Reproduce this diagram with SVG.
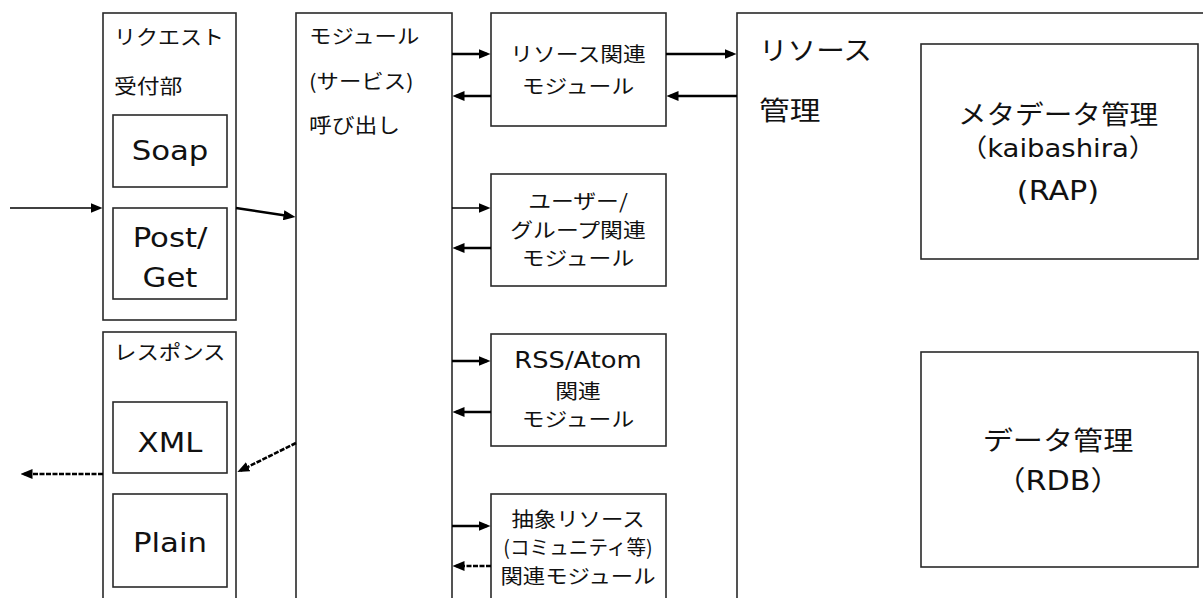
<svg xmlns="http://www.w3.org/2000/svg" width="1203" height="598" viewBox="0 0 1203 598">
<style>
.b{fill:#fff;stroke:#2a2a2a;stroke-width:1.6}
.j{font-family:"Noto Sans CJK JP",sans-serif;fill:#111}
.l{font-family:"DejaVu Sans","Noto Sans CJK JP",sans-serif;fill:#111}
.m{text-anchor:middle}
.c{stroke:#000;stroke-width:2.6;fill:none}
.thin{stroke-width:1.5}
.d{stroke-dasharray:5 1.5}
</style>
<defs>
<marker id="ah" viewBox="0 0 12 10" refX="8.5" refY="5" markerWidth="12" markerHeight="10" markerUnits="userSpaceOnUse" orient="auto"><path d="M0,0 L12,5 L0,10 z" fill="#000"/></marker>
</defs>
<rect width="1203" height="598" fill="#fff"/>

<g id="request">
<rect class="b" x="103" y="13" width="133" height="307"/>
<text class="j" font-size="20" transform="translate(114,45) scale(1.1,1)">リクエスト</text>
<text class="j" font-size="20" transform="translate(114,94) scale(1.14,1)">受付部</text>
</g>
<g id="soap">
<rect class="b" x="113" y="115" width="114" height="72"/>
<text class="l m" font-size="27" transform="translate(170,160) scale(1.14,1)">Soap</text>
</g>
<g id="postget">
<rect class="b" x="113" y="208" width="114" height="91"/>
<text class="l m" font-size="27" transform="translate(170,247) scale(1.14,1)">Post/</text>
<text class="l m" font-size="27" transform="translate(170,287) scale(1.14,1)">Get</text>
</g>
<g id="response">
<rect class="b" x="103" y="332" width="133" height="280"/>
<text class="j" font-size="20" transform="translate(114,360) scale(1.12,1)">レスポンス</text>
</g>
<g id="xml">
<rect class="b" x="113" y="402" width="114" height="71"/>
<text class="l m" font-size="27" transform="translate(170,452) scale(1.14,1)">XML</text>
</g>
<g id="plain">
<rect class="b" x="113" y="494" width="114" height="93"/>
<text class="l m" font-size="27" transform="translate(170,552) scale(1.14,1)">Plain</text>
</g>
<g id="module">
<rect class="b" x="296" y="13" width="156" height="600"/>
<text class="j" font-size="20" transform="translate(309,44) scale(1.12,1)">モジュール</text>
<text class="j" font-size="20" transform="translate(309,89) scale(1.12,1)">(サービス)</text>
<text class="j" font-size="20" transform="translate(309,133) scale(1.14,1)">呼び出し</text>
</g>
<g id="resource-module">
<rect class="b" x="491" y="13" width="175" height="113"/>
<text class="j m" font-size="20" transform="translate(578,62) scale(1.14,1)">リソース関連</text>
<text class="j m" font-size="20" transform="translate(578,94) scale(1.14,1)">モジュール</text>
</g>
<g id="user-group-module">
<rect class="b" x="491" y="174" width="175" height="112"/>
<text class="j m" font-size="20" transform="translate(578,209) scale(1.14,1)">ユーザー/</text>
<text class="j m" font-size="20" transform="translate(578,238) scale(1.14,1)">グループ関連</text>
<text class="j m" font-size="20" transform="translate(578,266) scale(1.14,1)">モジュール</text>
</g>
<g id="rss-module">
<rect class="b" x="491" y="334" width="175" height="112"/>
<text class="l m" font-size="23" transform="translate(578,368) scale(1.12,1)">RSS/Atom</text>
<text class="j m" font-size="20" transform="translate(578,399) scale(1.14,1)">関連</text>
<text class="j m" font-size="20" transform="translate(578,427) scale(1.14,1)">モジュール</text>
</g>
<g id="abstract-module">
<rect class="b" x="491" y="494" width="175" height="120"/>
<text class="j m" font-size="20" transform="translate(578,527) scale(1.12,1)">抽象リソース</text>
<text class="j m" font-size="20" transform="translate(578,555) scale(0.98,1)">(コミュニティ等)</text>
<text class="j m" font-size="20" transform="translate(578,584) scale(1.12,1)">関連モジュール</text>
</g>
<g id="resource-management">
<rect class="b" x="737" y="13" width="490" height="600"/>
<text class="j" font-size="26" transform="translate(759,60) scale(1.1,1)">リソース</text>
<text class="j" font-size="26" transform="translate(759,120) scale(1.18,1)">管理</text>
</g>
<g id="metadata">
<rect class="b" x="921" y="44" width="277" height="215"/>
<text class="j m" font-size="26" transform="translate(1058,124) scale(1.1,1)">メタデータ管理</text>
<text class="l m" font-size="25" transform="translate(1058,157) scale(1.1,1)">（kaibashira）</text>
<text class="l m" font-size="27" transform="translate(1058,200) scale(1.12,1)">(RAP)</text>
</g>
<g id="data">
<rect class="b" x="921" y="352" width="277" height="215"/>
<text class="j m" font-size="26" transform="translate(1058,450) scale(1.16,1)">データ管理</text>
<text class="l m" font-size="27" transform="translate(1058,490) scale(1.12,1)">（RDB）</text>
</g>

<g id="connectors" marker-end="url(#ah)">
<path class="c thin" d="M10,208 H99" marker-end="url(#ah)"/>
<path class="c" d="M236,208 L292,216.5" marker-end="url(#ah)"/>
<path class="c d" d="M296,443 L240.5,470.5" marker-end="url(#ah)"/>
<path class="c d" d="M103,474 H24" marker-end="url(#ah)"/>
<path class="c" d="M452,54 H487" marker-end="url(#ah)"/>
<path class="c" d="M491,96 H456" marker-end="url(#ah)"/>
<path class="c" d="M666,54 H733" marker-end="url(#ah)"/>
<path class="c" d="M737,96 H670" marker-end="url(#ah)"/>
<path class="c thin" d="M452,208 H487" marker-end="url(#ah)"/>
<path class="c" d="M491,248 H456" marker-end="url(#ah)"/>
<path class="c" d="M452,361 H487" marker-end="url(#ah)"/>
<path class="c" d="M491,412 H456" marker-end="url(#ah)"/>
<path class="c" d="M452,526 H487" marker-end="url(#ah)"/>
<path class="c d" d="M491,566 H456" marker-end="url(#ah)"/>
</g>
</svg>
